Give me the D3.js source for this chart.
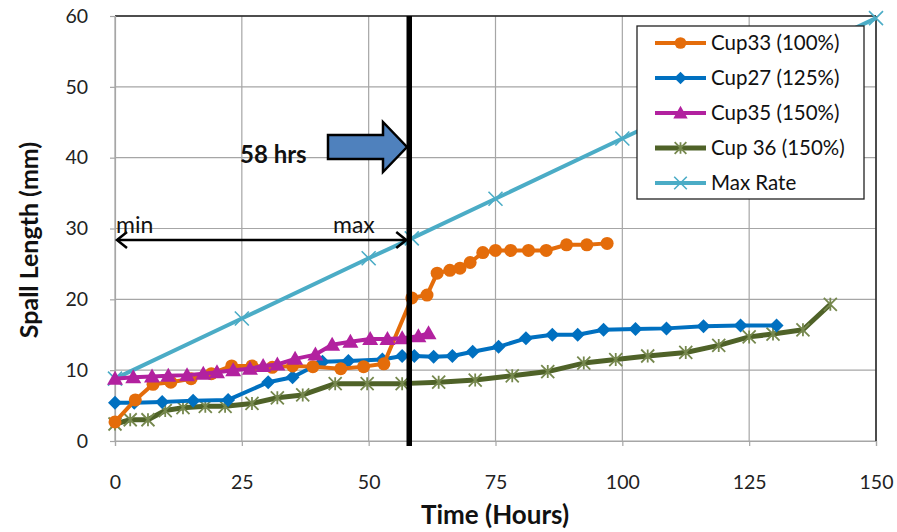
<!DOCTYPE html>
<html><head><meta charset="utf-8">
<script src="https://cdn.jsdelivr.net/npm/d3@7"></script>
<style>body{margin:0;background:#fff}svg{display:block}</style>
</head><body>
<svg id="c" width="897" height="532"></svg>
<script>
const xTicks = [0,25,50,75,100,125,150];
const yTicks = [0,10,20,30,40,50,60];

const cup33X = [0,4,7.5,11,15,19,23,27,31,35,39,44.5,49,53,58.5,61.5,63.5,66,68,70,72.5,75,78,81.5,85,89,93,97];
const cup33Y = [2.7,5.8,8.0,8.3,8.8,9.5,10.6,10.6,10.4,10.6,10.5,10.2,10.5,10.9,20.2,20.6,23.7,24.1,24.4,25.2,26.6,26.9,26.9,26.9,26.9,27.7,27.7,27.9];

const cup27X = [0,3.8,9.3,15.4,22.3,30.2,35,40.9,46,52.7,56.6,59,62.8,66.5,70.5,75.6,81,86.2,91.2,96.3,102.6,108.7,116,123.3,130.4];
const cup27Y = [5.4,5.4,5.5,5.7,5.8,8.3,9.0,11.2,11.3,11.5,12.0,12.0,11.9,12.0,12.6,13.3,14.5,15.0,15.0,15.7,15.8,15.9,16.2,16.3,16.3];

const cup35X = [0,3.6,7.3,10.5,14.2,17.4,20.1,23.3,26.6,29.2,32,35.5,39.5,42.8,46.4,50.3,53.7,56.6,59.8,61.8];
const cup35Y = [8.8,9.0,9.1,9.2,9.3,9.5,9.7,10.0,10.2,10.6,10.8,11.6,12.2,13.6,14.0,14.4,14.4,14.5,14.8,15.2];

const cup36X = [0,3,6.5,9.9,13.4,17.8,21.7,27,32,37,43.4,49.7,56.6,63.8,71,78.3,85.3,92.4,98.7,105,112.5,119,125,129.7,135.6,141];
const cup36Y = [2.4,3.0,3.0,4.3,4.7,4.9,4.9,5.3,6.1,6.5,8.1,8.1,8.1,8.3,8.6,9.2,9.8,11.0,11.5,12.0,12.5,13.5,14.7,15.1,15.7,19.3];

const maxX = [0,25,50,58.5,75,100,125,150];
const maxY = [8.8,17.3,25.8,28.6,34.2,42.7,51.2,59.7];

const seriesNames = ["Cup33 (100%)","Cup27 (125%)","Cup35 (150%)","Cup 36 (150%)","Max Rate"];
const seriesColors = ["#E46C0A","#0070C0","#B2219F","#4F6228","#4BACC6"];
const seriesMarkers = ["circle","diamond","triangle","star","x"];

const svg = d3.select("#c");
const x = d3.scaleLinear().domain([0,150]).range([115,876]);
const y = d3.scaleLinear().domain([0,60]).range([441,16]);
const FONT = "Lato, 'Open Sans', sans-serif";

// gridlines
svg.append("g").selectAll("line").data(yTicks).join("line")
  .attr("x1",x(0)).attr("x2",x(150)).attr("y1",d=>y(d)).attr("y2",d=>y(d))
  .attr("stroke","#a6a6a6").attr("stroke-width",1.2);
svg.append("g").selectAll("line").data(xTicks).join("line")
  .attr("y1",y(0)).attr("y2",y(60)).attr("x1",d=>x(d)).attr("x2",d=>x(d))
  .attr("stroke","#a6a6a6").attr("stroke-width",1.2);
// borders
svg.append("line").attr("x1",x(0)).attr("x2",x(150)).attr("y1",y(60)).attr("y2",y(60)).attr("stroke","#222").attr("stroke-width",1.5);
svg.append("line").attr("x1",x(150)).attr("x2",x(150)).attr("y1",y(60)).attr("y2",y(0)).attr("stroke","#222").attr("stroke-width",1.5);

// axes
const xAxis = svg.append("g").attr("transform",`translate(0,${y(0)})`)
  .call(d3.axisBottom(x).tickValues(xTicks).tickSize(5).tickPadding(29));
const yAxis = svg.append("g").attr("transform",`translate(${x(0)},0)`)
  .call(d3.axisLeft(y).tickValues(yTicks).tickSize(5).tickPadding(22));
[xAxis,yAxis].forEach(a=>{
  a.select(".domain").attr("stroke","#a6a6a6").attr("stroke-width",1.2);
  a.selectAll(".tick line").attr("stroke","#a6a6a6").attr("stroke-width",1.2);
  a.selectAll("text").attr("font-family",FONT).attr("font-size",19.5).attr("fill","#222");
});

// markers
function marker(g, type, color, cx, cy, s){
  if(type==="circle"){
    g.append("circle").attr("cx",cx).attr("cy",cy).attr("r",6.5*s).attr("fill",color);
  } else if(type==="diamond"){
    const r=7*s;
    g.append("path").attr("d",`M${cx},${cy-r}L${cx+r},${cy}L${cx},${cy+r}L${cx-r},${cy}Z`).attr("fill",color);
  } else if(type==="triangle"){
    const r=8*s;
    g.append("path").attr("d",`M${cx},${cy-r}L${cx+r},${cy+r*0.75}L${cx-r},${cy+r*0.75}Z`).attr("fill",color);
  } else if(type==="star"){
    const r=6.5*s;
    g.append("path").attr("d",`M${cx-r},${cy-r}L${cx+r},${cy+r}M${cx-r},${cy+r}L${cx+r},${cy-r}M${cx},${cy-r}L${cx},${cy+r}`)
      .attr("stroke","#76884e").attr("stroke-width",1.8).attr("fill","none");
  } else if(type==="x"){
    const r=7*s;
    g.append("path").attr("d",`M${cx-r},${cy-r}L${cx+r},${cy+r}M${cx-r},${cy+r}L${cx+r},${cy-r}`)
      .attr("stroke",color).attr("stroke-width",1.6).attr("fill","none");
  }
}

const allX=[cup33X,cup27X,cup35X,cup36X,maxX];
const allY=[cup33Y,cup27Y,cup35Y,cup36Y,maxY];
const line = d3.line().x(d=>x(d[0])).y(d=>y(d[1]));
const order=[4,3,1,0,2];
order.forEach(i=>{
  const pts = allX[i].map((v,k)=>[v,allY[i][k]]);
  const g = svg.append("g");
  g.append("path").datum(pts).attr("d",line).attr("fill","none")
    .attr("stroke",seriesColors[i]).attr("stroke-width",i===3?5:4).attr("stroke-linejoin","round");
  pts.forEach(p=>marker(g,seriesMarkers[i],seriesColors[i],x(p[0]),y(p[1]),1));
});

// vertical 58 hrs line
svg.append("line").attr("x1",x(58)).attr("x2",x(58)).attr("y1",y(60)).attr("y2",y(0)+5)
  .attr("stroke","#000").attr("stroke-width",5.5);

// min-max double arrow
const ay = 240;
svg.append("line").attr("x1",x(0)+2).attr("x2",x(58)-3).attr("y1",ay).attr("y2",ay).attr("stroke","#000").attr("stroke-width",2.5);
svg.append("path").attr("d",`M${x(0)+12},${ay-8}L${x(0)+2},${ay}L${x(0)+12},${ay+8}`).attr("fill","none").attr("stroke","#000").attr("stroke-width",2.5);
svg.append("path").attr("d",`M${x(58)-13},${ay-8}L${x(58)-3},${ay}L${x(58)-13},${ay+8}`).attr("fill","none").attr("stroke","#000").attr("stroke-width",2.5);
svg.append("text").attr("x",116).attr("y",233).text("min").attr("font-family",FONT).attr("font-size",23).attr("fill","#111");
svg.append("text").attr("x",333).attr("y",233).text("max").attr("font-family",FONT).attr("font-size",23).attr("fill","#111");

// block arrow
svg.append("path").attr("d","M328,135L383,135L383,122L407,147L383,172L383,159L328,159Z")
  .attr("fill","#4F81BD").attr("stroke","#000").attr("stroke-width",2.5).attr("stroke-linejoin","miter");
svg.append("text").attr("x",240).attr("y",163).text("58 hrs").attr("font-family",FONT).attr("font-weight","bold").attr("font-size",24).attr("fill","#111");

// legend
const lg = svg.append("g");
lg.append("rect").attr("x",637).attr("y",26).attr("width",227).attr("height",173).attr("fill","#fff").attr("stroke","#222").attr("stroke-width",1.3);
seriesNames.forEach((n,i)=>{
  const cy = 43 + i*35;
  lg.append("line").attr("x1",655).attr("x2",706).attr("y1",cy).attr("y2",cy).attr("stroke",seriesColors[i]).attr("stroke-width",i===3?5:4);
  marker(lg,seriesMarkers[i],seriesColors[i],680.5,cy,0.9);
  lg.append("text").attr("x",711).attr("y",cy+7).text(n).attr("font-family",FONT).attr("font-size",20.5).attr("fill","#111");
});

// axis titles
svg.append("text").attr("x",495).attr("y",524).attr("text-anchor","middle").text("Time (Hours)")
  .attr("font-family",FONT).attr("font-weight","bold").attr("font-size",26).attr("fill","#111");
svg.append("text").attr("transform","translate(38,240) rotate(-90)").attr("text-anchor","middle").text("Spall Length (mm)")
  .attr("font-family",FONT).attr("font-weight","bold").attr("font-size",25).attr("fill","#111");
</script>
</body></html>
